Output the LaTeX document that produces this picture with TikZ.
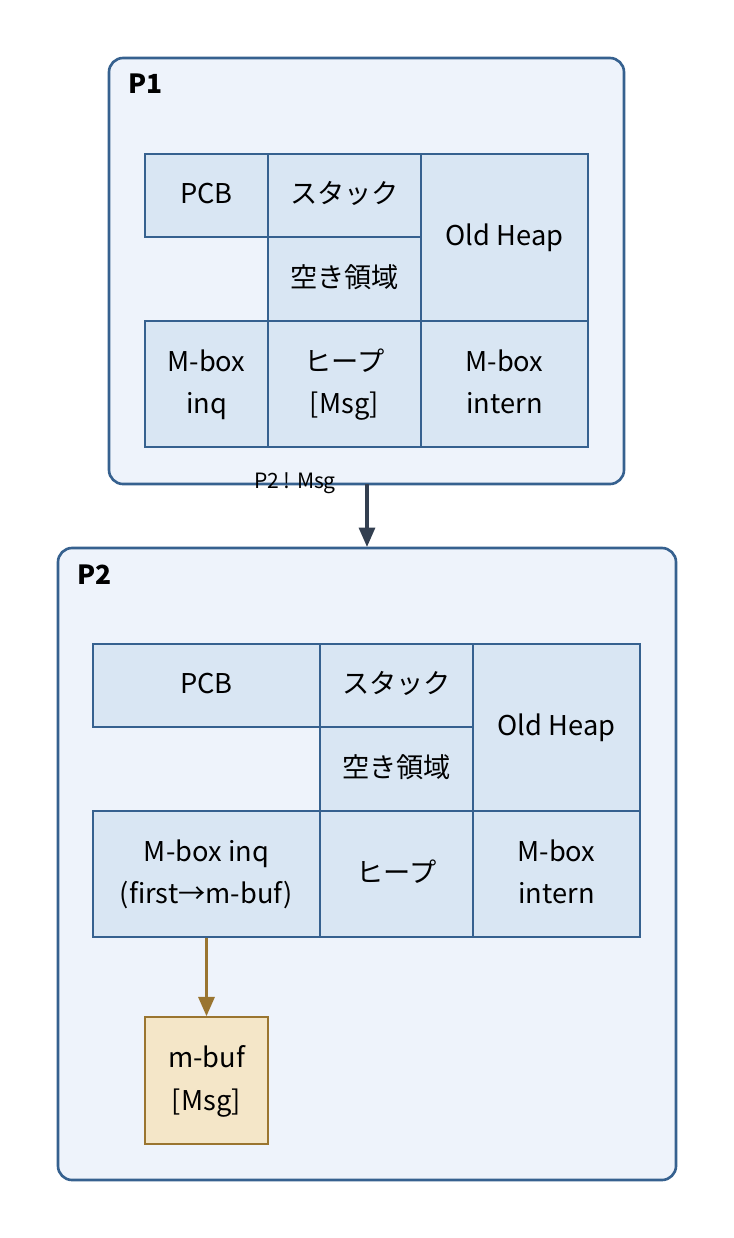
\documentclass[tikz,border=0pt]{standalone}
\usepackage{fontspec}
\setmainfont{Noto Sans CJK JP}
\usetikzlibrary{arrows.meta}
\definecolor{procfill}{HTML}{EEF3FB}
\definecolor{procline}{HTML}{36618F}
\definecolor{cellfill}{HTML}{D9E6F3}
\definecolor{bufffill}{HTML}{F4E6C8}
\definecolor{buffline}{HTML}{9A7530}
\definecolor{msgline}{HTML}{333F50}
% cell: name, x1, y1, x2, y2, text (pixel units)
\newcommand{\memcell}[7][cell]{%
  \node[#1,minimum width={(#5-#3)*0.02cm},minimum height={(#6-#4)*0.02cm}]
    (#2) at ({(#3+#5)/2},{(#4+#6)/2}) {\raisebox{-3pt}{\begin{tabular}{@{}c@{}}#7\end{tabular}}};}
\begin{document}
\begin{tikzpicture}[x=0.02cm,y=-0.02cm,
    proc/.style={draw=procline,fill=procfill,line width=1.5pt,rounded corners=8pt},
    proc label/.style={font=\fontsize{15}{17}\selectfont\bfseries,anchor=west},
    cell/.style={draw=procline,fill=cellfill,line width=0.8pt,inner sep=0pt,
      align=center,font=\fontsize{15.5}{24}\selectfont},
    buf/.style={cell,draw=buffline,fill=bufffill},
    send/.style={-{Triangle[length=11pt,width=9pt]},line width=2pt}]
  \useasboundingbox (0,0) rectangle (734,1238);
  % process P1
  \draw[proc] (109,58) rectangle (624,484);
  \node[proc label] (p1) at (122,84) {P1};
  \memcell{a1}{145}{154}{268}{237}{PCB}
  \memcell{a2}{268}{154}{421}{237}{スタック}
  \memcell{a3}{268}{237}{421}{321}{空き領域}
  \memcell{a4}{421}{154}{588}{321}{Old Heap}
  \memcell{a5}{145}{321}{268}{447}{M-box\\inq}
  \memcell{a6}{268}{321}{421}{447}{ヒープ\\{[Msg]}}
  \memcell{a7}{421}{321}{588}{447}{M-box\\intern}
  % process P2
  \draw[proc] (58,548) rectangle (676,1180);
  \node[proc label] (p2) at (71,575) {P2};
  \memcell{b1}{93}{644}{320}{727}{PCB}
  \memcell{b2}{320}{644}{473}{727}{スタック}
  \memcell{b3}{320}{727}{473}{811}{空き領域}
  \memcell{b4}{473}{644}{640}{811}{Old Heap}
  \memcell{b5}{93}{811}{320}{937}{M-box inq\\(first→m-buf)}
  \memcell{b6}{320}{811}{473}{937}{ヒープ}
  \memcell{b7}{473}{811}{640}{937}{M-box\\intern}
  \memcell[buf]{mb}{145}{1017}{268}{1144}{m-buf\\{[Msg]}}
  % messages
  \coordinate (s1) at (367,484);
  \coordinate (s2) at (367,547);
  \draw[send,msgline] (s1) -- node[pos=0,text=black,font=\fontsize{12}{14}\selectfont,inner sep=0pt,xshift=-1.44cm,yshift=0.02cm] {P2 ! Msg} (s2);
  \draw[send,buffline] (b5.south) -- (mb.north);
\end{tikzpicture}
\end{document}
